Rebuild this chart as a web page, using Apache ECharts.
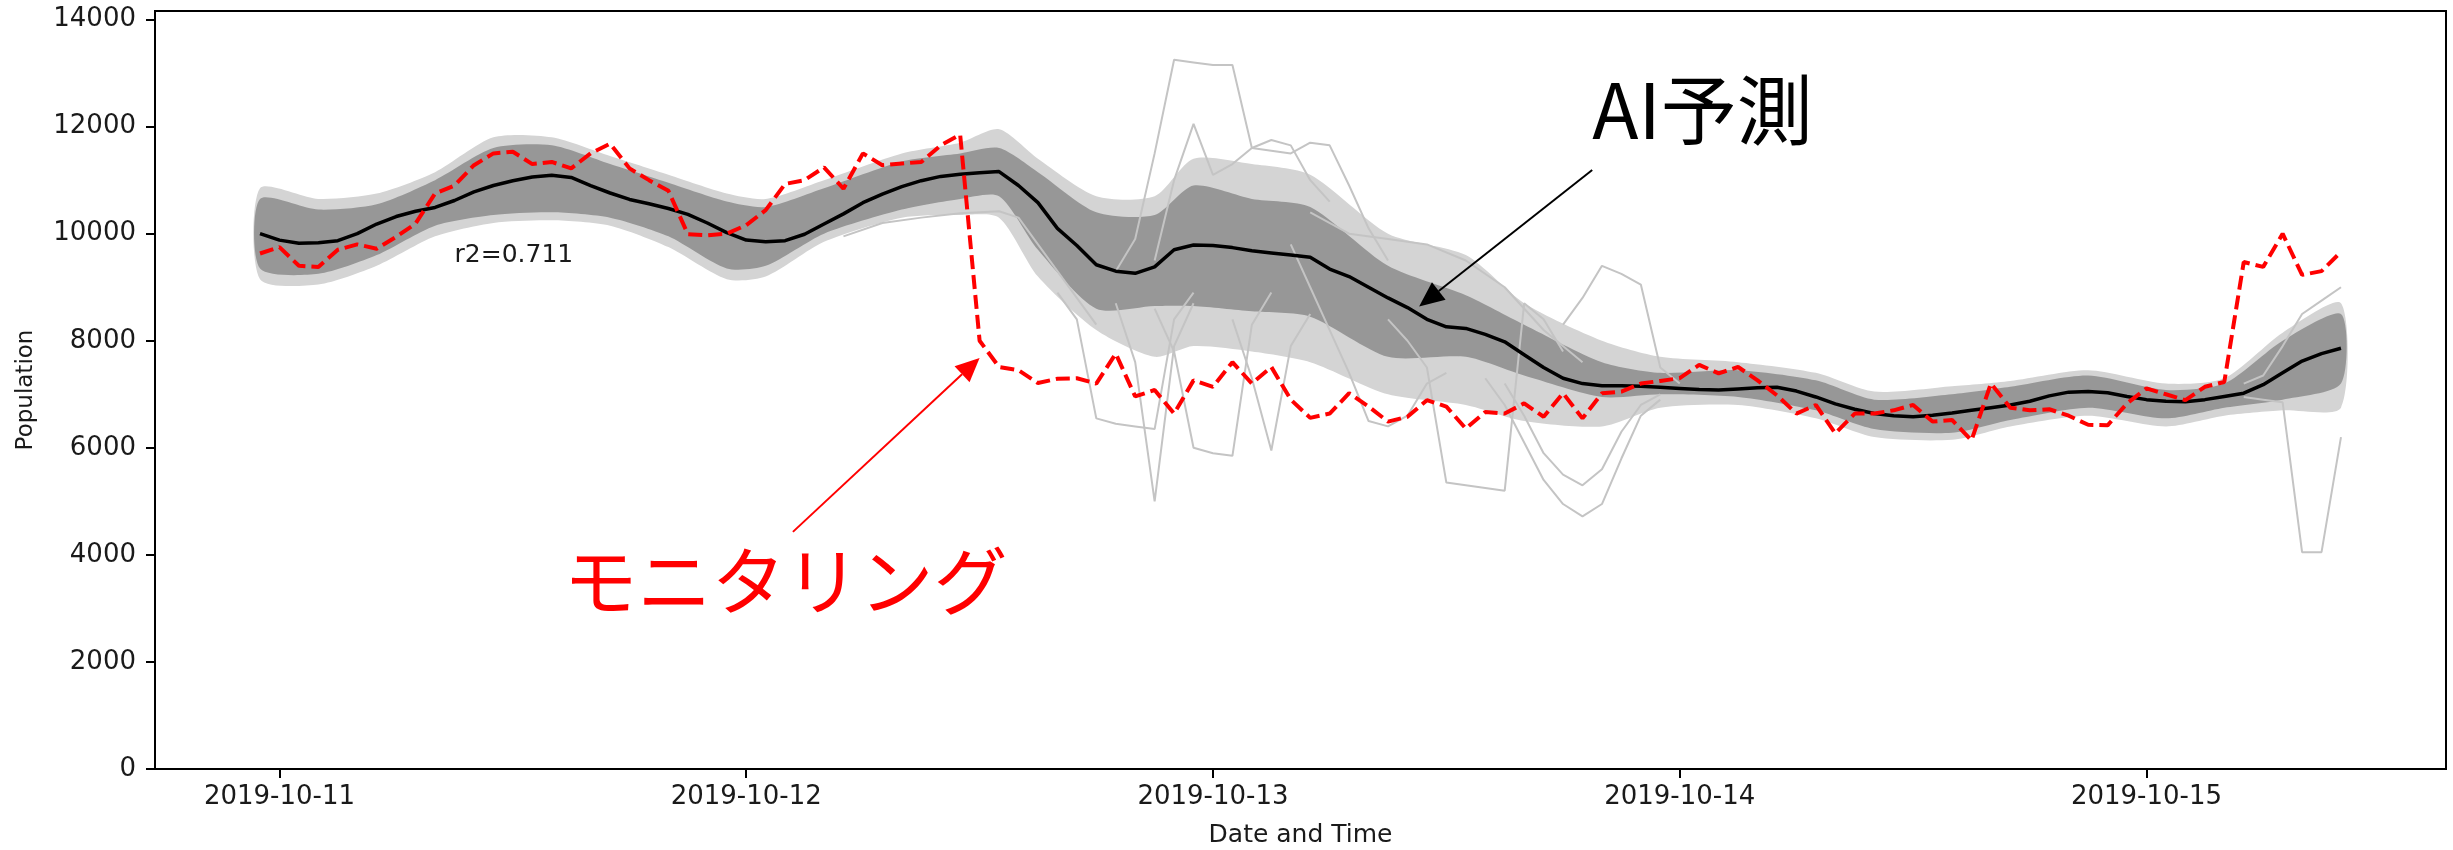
<!DOCTYPE html>
<html><head><meta charset="utf-8">
<script src="https://cdn.jsdelivr.net/npm/echarts@6/dist/echarts.min.js"></script>
<style>html,body{margin:0;padding:0;background:#fff}#c{width:2453px;height:850px}</style>
</head><body><div id="c"></div>
<script>
// ---- time grid: hours since 2019-10-11 00:00 (hourly, 2019-10-10 23:00 .. 2019-10-15 10:00)
const hours = [];
for (let h = -1; h <= 106; h++) hours.push(h);

const dayTicks = [0, 24, 48, 72, 96];
const dayLabels = ['2019-10-11', '2019-10-12', '2019-10-13', '2019-10-14', '2019-10-15'];
const yTicks = [0, 2000, 4000, 6000, 8000, 10000, 12000, 14000];

// ---- monitoring (red dashed), h = -1 .. 106
const monitoring = [
  9630, 9750, 9400, 9380, 9700, 9800, 9720, 9940, 10190, 10750, 10900, 11280, 11500,
  11530, 11300, 11340, 11220, 11500, 11680, 11220, 11000, 10800, 9990, 9970, 10000,
  10160, 10440, 10930, 11000, 11240, 10840, 11500, 11280, 11310, 11340, 11650, 11850,
  8000, 7510, 7450, 7210, 7290, 7300, 7200, 7760, 6960, 7080, 6640, 7260, 7140, 7600,
  7200, 7510, 6900, 6560, 6640, 7020, 6770, 6490, 6580, 6890, 6770, 6360, 6670, 6640,
  6830, 6580, 7020, 6550, 7020, 7050, 7200, 7250, 7300, 7550, 7390, 7510, 7260, 6980,
  6640, 6800, 6270, 6640, 6640, 6700, 6800, 6490, 6520, 6140, 7200, 6750, 6700, 6720,
  6600, 6430, 6420, 6830, 7110, 7000, 6890, 7140, 7230, 9470, 9380, 10000, 9230, 9300, 9660
];

// ---- AI prediction mean (black), h = -1 .. 106
const aiMean = [
  10000, 9880, 9820, 9830, 9870, 10000, 10180, 10320, 10420, 10490, 10620, 10780, 10900,
  10990, 11060, 11090, 11050, 10900, 10760, 10640, 10560, 10470, 10360, 10200, 10020,
  9880, 9850, 9870, 9990, 10180, 10370, 10580, 10740, 10880, 10990, 11070, 11110, 11140,
  11160, 10900, 10580, 10100, 9780, 9420, 9300, 9260, 9380, 9700, 9790, 9780, 9740, 9680,
  9640, 9600, 9560, 9340, 9200, 9000, 8800, 8620, 8400, 8260, 8230, 8120, 7980, 7740,
  7500, 7300, 7200, 7160, 7160, 7150, 7130, 7110, 7090, 7080, 7100, 7120, 7130, 7060,
  6950, 6820, 6720, 6640, 6600, 6580, 6610, 6650, 6700, 6750, 6800, 6870, 6970, 7040,
  7050, 7030, 6960, 6900, 6870, 6860, 6900, 6960, 7020, 7180, 7400, 7620, 7760, 7860
];

// ---- ensemble spread (gray), read at key hours
const bandHours = [-1, 2, 5, 8, 11, 14, 17, 20, 23, 25, 28, 32, 35, 37, 39, 42, 45, 47, 50, 53, 57, 61, 64, 68, 71, 75, 79, 82, 86, 89, 93, 97, 100, 103, 106];
const coreLow   = [9350, 9250, 9600, 10150, 10350, 10400, 10300, 9950, 9350, 9400, 10000, 10450, 10650, 10700, 9700, 8600, 8650, 8650, 8550, 8450, 7700, 7700, 7350, 6950, 7000, 6950, 6700, 6350, 6280, 6520, 6750, 6550, 6750, 6900, 7200];
const coreHigh  = [10650, 10450, 10550, 11000, 11600, 11650, 11300, 10950, 10600, 10500, 10850, 11350, 11500, 11600, 11150, 10400, 10350, 10900, 10650, 10500, 9400, 8850, 8300, 7600, 7400, 7450, 7260, 6900, 7000, 7140, 7350, 7080, 7200, 8000, 8500];
const outerLow  = [9150, 9050, 9400, 9950, 10200, 10250, 10150, 9750, 9150, 9200, 9850, 10300, 10350, 10300, 9200, 8200, 7700, 7900, 7800, 7600, 7000, 6800, 6500, 6400, 6750, 6800, 6550, 6200, 6150, 6400, 6600, 6400, 6600, 6700, 6750];
const outerHigh = [10850, 10650, 10750, 11150, 11800, 11800, 11450, 11100, 10750, 10650, 11000, 11500, 11700, 11950, 11400, 10700, 10700, 11400, 11300, 11100, 10000, 9600, 8700, 8000, 7700, 7600, 7400, 7050, 7150, 7250, 7450, 7200, 7300, 8150, 8700];

// ---- individual stray ensemble members [hour, value]
const strayA = [[43,9300],[44,9900],[45,11500],[46,13250],[47,13200],[48,13150],[49,13150],[50,11600],[51,11550],[52,11500],[53,11700],[54,11650],[55,10900],[56,10100],[57,9500]];
const strayB = [[45,9500],[46,11000],[47,12050],[48,11100],[49,11300],[50,11600],[51,11750],[52,11650],[53,11000],[54,10600]];
const strayC = [[43,8700],[44,7600],[45,5000],[46,7900],[47,8700]];
const strayD = [[45,8600],[46,7800],[47,6000],[48,5900],[49,5850],[50,8300],[51,8900]];
const strayE = [[49,8400],[50,7300],[51,5950],[52,7900],[53,8500]];
const strayF = [[40,8900],[41,8400],[42,6550],[43,6450],[44,6400],[45,6350],[46,8400],[47,8900]];
const strayG = [[57,8400],[58,8000],[59,7500],[60,5350],[61,5300],[62,5250],[63,5200],[64,8700],[65,8400],[66,7800]];
const strayH = [[62,7300],[63,6800],[64,6100],[65,5400],[66,4950],[67,4720],[68,4950],[69,5800],[70,6600],[71,6900]];
const strayI = [[63,7200],[64,6600],[65,5900],[66,5500],[67,5300],[68,5600],[69,6300],[70,6800],[71,7000]];
const strayJ = [[66,8300],[67,8800],[68,9400],[69,9250],[70,9050],[71,7500],[72,7200]];
const strayK = [[29,9950],[31,10200],[33,10300],[35,10380],[37,10420],[38,10300],[40,9300],[42,8300]];
const strayL = [[101,6950],[102,6900],[103,6850],[104,4050],[105,4050],[106,6200]];
const strayM = [[101,7200],[102,7350],[103,7900],[104,8500],[105,8750],[106,9000]];
const strayN = [[52,9800],[53,9000],[54,8200],[55,7400],[56,6500],[57,6400],[58,6600],[59,7200],[60,7400]];
const strayO = [[53,10400],[55,10000],[57,9900],[59,9800],[61,9500],[63,9000],[65,8200],[67,7600]];
const strays = [strayA, strayB, strayC, strayD, strayE, strayF, strayG, strayH, strayI, strayJ, strayK, strayL, strayM, strayN, strayO];

const FONT = 'DejaVu Sans';
const chart = echarts.init(document.getElementById('c'), null, {renderer: 'canvas'});

function band(lo, hi, color, z) {
  return {
    type: 'custom', coordinateSystem: 'cartesian2d', silent: true, clip: true, z: z,
    data: [[bandHours[0], lo[0]]],
    renderItem: function (params, api) {
      const pts = [];
      for (let i = 0; i < bandHours.length; i++) pts.push(api.coord([bandHours[i], hi[i]]));
      for (let i = bandHours.length - 1; i >= 0; i--) pts.push(api.coord([bandHours[i], lo[i]]));
      return {type: 'polygon', shape: {points: pts, smooth: 0.25}, style: {fill: color}};
    }
  };
}

const series = [band(outerLow, outerHigh, '#d4d4d4', 1), band(coreLow, coreHigh, '#979797', 2)];
strays.forEach(function (s) {
  series.push({type: 'line', data: s, showSymbol: false, silent: true, z: 3,
    lineStyle: {color: '#c4c4c4', width: 2}});
});
series.push({type: 'line', name: 'AI', data: hours.map((h, i) => [h, aiMean[i]]), showSymbol: false, silent: true, z: 5,
  lineStyle: {color: '#000', width: 3.5}});
series.push({type: 'line', name: 'monitoring', data: hours.map((h, i) => [h, monitoring[i]]), showSymbol: false, silent: true, z: 6,
  lineStyle: {color: '#ff0000', width: 4, type: [14, 6]}});

chart.setOption({
  animation: false,
  backgroundColor: '#fff',
  grid: {left: 155, right: 7, top: 11, bottom: 81, show: true, borderColor: '#000', borderWidth: 2, outerBoundsMode: 'none'},
  xAxis: {
    type: 'value', min: -6.4, max: 111.4,
    axisLine: {show: true, onZero: false, lineStyle: {color: '#000', width: 2}},
    axisTick: {show: true, customValues: dayTicks, length: 9, lineStyle: {color: '#000', width: 2}},
    axisLabel: {show: true, customValues: dayTicks, formatter: v => dayLabels[dayTicks.indexOf(v)],
      fontSize: 26, fontFamily: FONT, color: '#1a1a1a', margin: 15},
    splitLine: {show: false},
    name: 'Date and Time', nameLocation: 'middle', nameGap: 54,
    nameTextStyle: {fontSize: 25, fontFamily: FONT, color: '#1a1a1a'}
  },
  yAxis: {
    type: 'value', min: 0, max: 14160,
    axisLine: {show: true, onZero: false, lineStyle: {color: '#000', width: 2}},
    axisTick: {show: true, customValues: yTicks, length: 9, lineStyle: {color: '#000', width: 2}},
    axisLabel: {show: true, customValues: yTicks, formatter: v => String(v), fontSize: 26, fontFamily: FONT, color: '#1a1a1a', margin: 19},
    splitLine: {show: false},
    name: 'Population', nameLocation: 'middle', nameGap: 117,
    nameTextStyle: {fontSize: 23, fontFamily: FONT, color: '#1a1a1a'}
  },
  series: series
});

// ---- annotations (placed in data coordinates)
function px(p) { return chart.convertToPixel({gridIndex: 0}, p); }
function arrow(a, b, color, lw, L, W) {
  const p0 = px(a), p1 = px(b);
  const dx = p1[0] - p0[0], dy = p1[1] - p0[1], d = Math.hypot(dx, dy), ux = dx / d, uy = dy / d;
  const bx = p1[0] - ux * L, by = p1[1] - uy * L;
  return [
    {type: 'line', silent: true, z: 100, shape: {x1: p0[0], y1: p0[1], x2: bx, y2: by}, style: {stroke: color, lineWidth: lw}},
    {type: 'polygon', silent: true, z: 100, shape: {points: [[p1[0], p1[1]], [bx - uy * W / 2, by + ux * W / 2], [bx + uy * W / 2, by - ux * W / 2]]}, style: {fill: color}}
  ];
}
function label(p, text, color, size, family) {
  const q = px(p);
  return {type: 'text', silent: true, z: 100, x: q[0], y: q[1],
    style: {text: text, fill: color, fontSize: size, fontFamily: family, align: 'left', verticalAlign: 'middle'}};
}
const graphics = []
  .concat(arrow([67.5, 11190], [58.6, 8640], '#000', 2, 25, 22))
  .concat(arrow([26.4, 4430], [36.0, 7680], '#ff0000', 2, 24, 22))
  .concat([
    label([67.5, 12300], 'AI予測', '#000', 76, 'Noto Sans CJK JP'),
    label([14.6, 3510], 'モニタリング', '#ff0000', 74, 'Noto Sans CJK JP'),
    label([9.0, 9600], 'r2=0.711', '#1a1a1a', 25, FONT)
  ]);
chart.setOption({graphic: graphics});
</script>
</body></html>
